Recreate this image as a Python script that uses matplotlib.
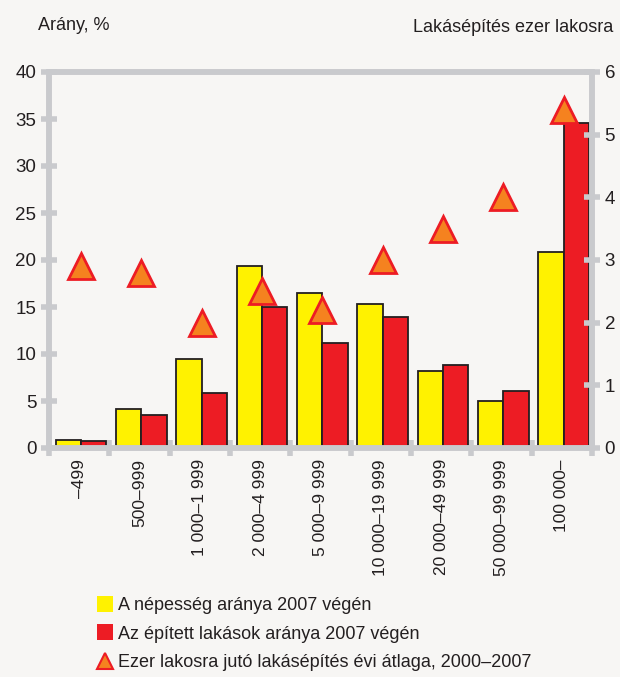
import matplotlib
matplotlib.use("Agg")
import matplotlib.pyplot as plt
from matplotlib.lines import Line2D
import numpy as np

plt.rcParams['font.family'] = ['Liberation Sans', 'DejaVu Sans']

# településnagyság-kategóriák
kategoriak = ['–499', '500–999', '1 000–1 999', '2 000–4 999', '5 000–9 999',
              '10 000–19 999', '20 000–49 999', '50 000–99 999', '100 000–']
nepesseg = [0.9, 4.1, 9.5, 19.4, 16.5, 15.3, 8.2, 5.0, 20.8]
lakasok = [0.7, 3.5, 5.8, 15.0, 11.2, 13.9, 8.8, 6.1, 34.6]
ezer_lakosra = [2.9, 2.8, 2.0, 2.5, 2.2, 3.0, 3.5, 4.0, 5.4]

sarga = '#fff200'
piros = '#ed1c24'
narancs = '#f5821f'
szurke = '#c9cacd'
hatter = '#f7f6f4'
szoveg = '#231f20'

fig = plt.figure(figsize=(6.2, 6.77), dpi=100, facecolor=hatter)
ax = fig.add_axes([49/620, 1-448/677, (592-49)/620, (448-72)/677])
ax.set_facecolor(hatter)

x = np.arange(len(kategoriak))
w = 0.42
eltol = 0.03
ax.bar(x + eltol - w/2, nepesseg, w, color=sarga, edgecolor=szoveg, linewidth=1.3, zorder=2)
ax.bar(x + eltol + w/2, lakasok, w, color=piros, edgecolor=szoveg, linewidth=1.3, zorder=2)

ax.set_xlim(-0.5, len(kategoriak) - 0.5)
ax.set_ylim(0, 40)
ax.set_yticks(range(0, 41, 5))
ax.set_xticks(np.arange(-0.5, len(kategoriak)), labels=[])
ax.set_xticks(x, labels=kategoriak, minor=True, rotation=90)
ax.tick_params(axis='x', which='minor', length=0, pad=8, labelsize=12.5, labelcolor=szoveg)
ax.tick_params(axis='x', which='major', direction='inout', length=12, width=4, color=szurke)
ax.tick_params(axis='y', direction='inout', length=12, width=4, color=szurke,
               labelsize=13.5, labelcolor=szoveg, pad=3)
for s in ax.spines.values():
    s.set_color(szurke)
    s.set_linewidth(4)
    s.set_capstyle('round')

# jobb oldali tengely: lakásépítés ezer lakosra
ax2 = ax.twinx()
ax2.set_ylim(0, 6)
ax2.set_yticks(range(0, 7))
ax2.tick_params(axis='y', direction='inout', length=12, width=4, color=szurke,
                labelsize=13.5, labelcolor=szoveg, pad=3)
for s in ax2.spines.values():
    s.set_color(szurke)
    s.set_linewidth(4)
ax2.plot(x + eltol, ezer_lakosra, linestyle='none', marker='^', markersize=19,
         markerfacecolor=narancs, markeredgecolor=piros, markeredgewidth=2, zorder=3)

fig.text(38/620, 1-25/677, 'Arány, %', fontsize=13, color=szoveg, va='center')
fig.text(613/620, 1-28/677, 'Lakásépítés ezer lakosra', fontsize=13, color=szoveg,
         va='center', ha='right')

kezelok = [
    Line2D([], [], linestyle='none', marker='s', markersize=11.5, markerfacecolor=sarga,
           markeredgewidth=0),
    Line2D([], [], linestyle='none', marker='s', markersize=11.5, markerfacecolor=piros,
           markeredgewidth=0),
    Line2D([], [], linestyle='none', marker='^', markersize=12, markerfacecolor=narancs,
           markeredgecolor=piros, markeredgewidth=1.5),
]
cimkek = ['A népesség aránya 2007 végén',
          'Az épített lakások aránya 2007 végén',
          'Ezer lakosra jutó lakásépítés évi átlaga, 2000–2007']
fig.legend(kezelok, cimkek, loc='upper left', bbox_to_anchor=(96/620, 1-597/677),
           frameon=False, fontsize=13, handlelength=1.0, handletextpad=0.2,
           labelspacing=0.65, labelcolor=szoveg, borderpad=0, borderaxespad=0)

fig.savefig('out.png', dpi=100, facecolor=hatter)
